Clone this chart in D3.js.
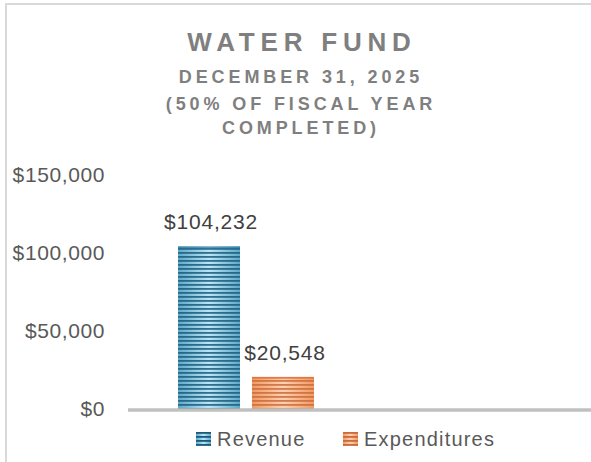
<!DOCTYPE html>
<html lang="en">
<head>
<meta charset="UTF-8">
<title>Water Fund</title>
<script src="https://d3js.org/d3.v7.min.js"></script>
<style>
  body { margin: 0; background: #fff; font-family: "Liberation Sans", Arial, sans-serif; }
  svg { display: block; }
</style>
</head>
<body>
<svg id="chart"></svg>
<script>
const titleText = "WATER FUND";
const subtitleLines = ["DECEMBER 31, 2025", "(50% OF FISCAL YEAR", "COMPLETED)"];
const categories = ["Dec 31, 2025"];
const series = ["Revenue", "Expenditures"];
const values = [104232, 20548];
const yTicks = [0, 50000, 100000, 150000];

const width = 591, height = 462;
const svg = d3.select("#chart").attr("width", width).attr("height", height);

// chart border (only top and left are visible in the crop)
svg.append("path")
  .attr("d", `M6,${height} L6,4 L${width},4`)
  .attr("fill", "none").attr("stroke", "#d9d9d9").attr("stroke-width", 2);

const defs = svg.append("defs");

function makeFill(id, edge, mid, stripe) {
  const g = defs.append("linearGradient").attr("id", id + "-grad")
    .attr("x1", "0").attr("x2", "1").attr("y1", "0").attr("y2", "0");
  g.append("stop").attr("offset", "0%").attr("stop-color", edge);
  g.append("stop").attr("offset", "50%").attr("stop-color", mid);
  g.append("stop").attr("offset", "100%").attr("stop-color", edge);
  const p = defs.append("pattern").attr("id", id + "-stripes")
    .attr("patternUnits", "userSpaceOnUse").attr("width", 8).attr("height", 4);
  p.append("rect").attr("width", 8).attr("height", 1.8).attr("fill", stripe);
}
makeFill("rev", "#5fa9c9", "#b9e6f7", "#1b5a7a");
makeFill("exp", "#f29a62", "#ffd0b0", "#c86c3c");
const fillIds = { Revenue: "rev", Expenditures: "exp" };
const topColor = { Revenue: "#2a7aa0", Expenditures: "#e8733a" };

const y = d3.scaleLinear().domain([0, 150000]).range([409, 175]);
const x0 = d3.scaleBand().domain(categories).range([128, 364]).paddingOuter(0.368);
const x1 = d3.scaleBand().domain(series).range([0, x0.bandwidth()]).paddingInner(0.162);

// title
const title = svg.append("g").attr("fill", "#7f7f7f").attr("font-weight", "bold").attr("text-anchor", "middle");
title.append("text").attr("x", 302).attr("y", 51)
  .attr("font-size", 26).attr("letter-spacing", 5.8).text(titleText);
title.selectAll("text.sub").data(subtitleLines).join("text").attr("class", "sub")
  .attr("x", 301).attr("y", (d, i) => [83, 110, 134][i])
  .attr("font-size", 18).attr("letter-spacing", 3.9).text(d => d);

// y axis labels
const yAxis = d3.axisLeft(y).tickValues(yTicks).tickSize(0).tickPadding(0)
  .tickFormat(d => "$" + d3.format(",")(d));
svg.append("g").attr("transform", "translate(105,0)").call(yAxis)
  .call(g => g.select(".domain").remove())
  .call(g => g.selectAll("text").attr("fill", "#595959").attr("font-size", 21)
    .attr("letter-spacing", 0.6).attr("font-family", "'Liberation Sans', Arial, sans-serif"));

// bars
const data = series.map((s, i) => ({ series: s, cat: categories[0], value: values[i] }));
const bars = svg.append("g");
const bx = d => x0(d.cat) + x1(d.series);
bars.selectAll("rect.base").data(data).join("rect").attr("class", "base")
  .attr("x", bx).attr("y", d => y(d.value)).attr("width", x1.bandwidth())
  .attr("height", d => y(0) - y(d.value)).attr("fill", d => `url(#${fillIds[d.series]}-grad)`);
bars.selectAll("rect.stripe").data(data).join("rect").attr("class", "stripe")
  .attr("x", bx).attr("y", d => y(d.value)).attr("width", x1.bandwidth())
  .attr("height", d => y(0) - y(d.value)).attr("fill", d => `url(#${fillIds[d.series]}-stripes)`)
  .attr("opacity", 0.85);
bars.selectAll("rect.top").data(data).join("rect").attr("class", "top")
  .attr("x", bx).attr("y", d => y(d.value)).attr("width", x1.bandwidth())
  .attr("height", 2).attr("fill", d => topColor[d.series]).attr("opacity", 0.7);

// value labels
svg.append("g").selectAll("text").data(data).join("text")
  .attr("x", d => bx(d) + x1.bandwidth() / 2 + 2).attr("y", d => y(d.value) - 17)
  .attr("text-anchor", "middle").attr("fill", "#404040").attr("font-size", 21).attr("letter-spacing", 0.8)
  .text(d => "$" + d3.format(",")(d.value));

// baseline
svg.append("line").attr("x1", 128).attr("x2", width).attr("y1", y(0) + 1).attr("y2", y(0) + 1)
  .attr("stroke", "#c0c0c0").attr("stroke-width", 3.5);

// legend
const legendX = [196, 343];
const legend = svg.append("g").selectAll("g").data(series).join("g")
  .attr("transform", (d, i) => `translate(${legendX[i]},432)`);
legend.append("rect").attr("width", 15).attr("height", 14).attr("fill", d => `url(#${fillIds[d]}-grad)`);
legend.append("rect").attr("width", 15).attr("height", 14).attr("fill", d => `url(#${fillIds[d]}-stripes)`);
legend.append("text").attr("x", 21).attr("y", 14).attr("fill", "#595959")
  .attr("font-size", 20).attr("letter-spacing", 1.2).text(d => d);
</script>
</body>
</html>
